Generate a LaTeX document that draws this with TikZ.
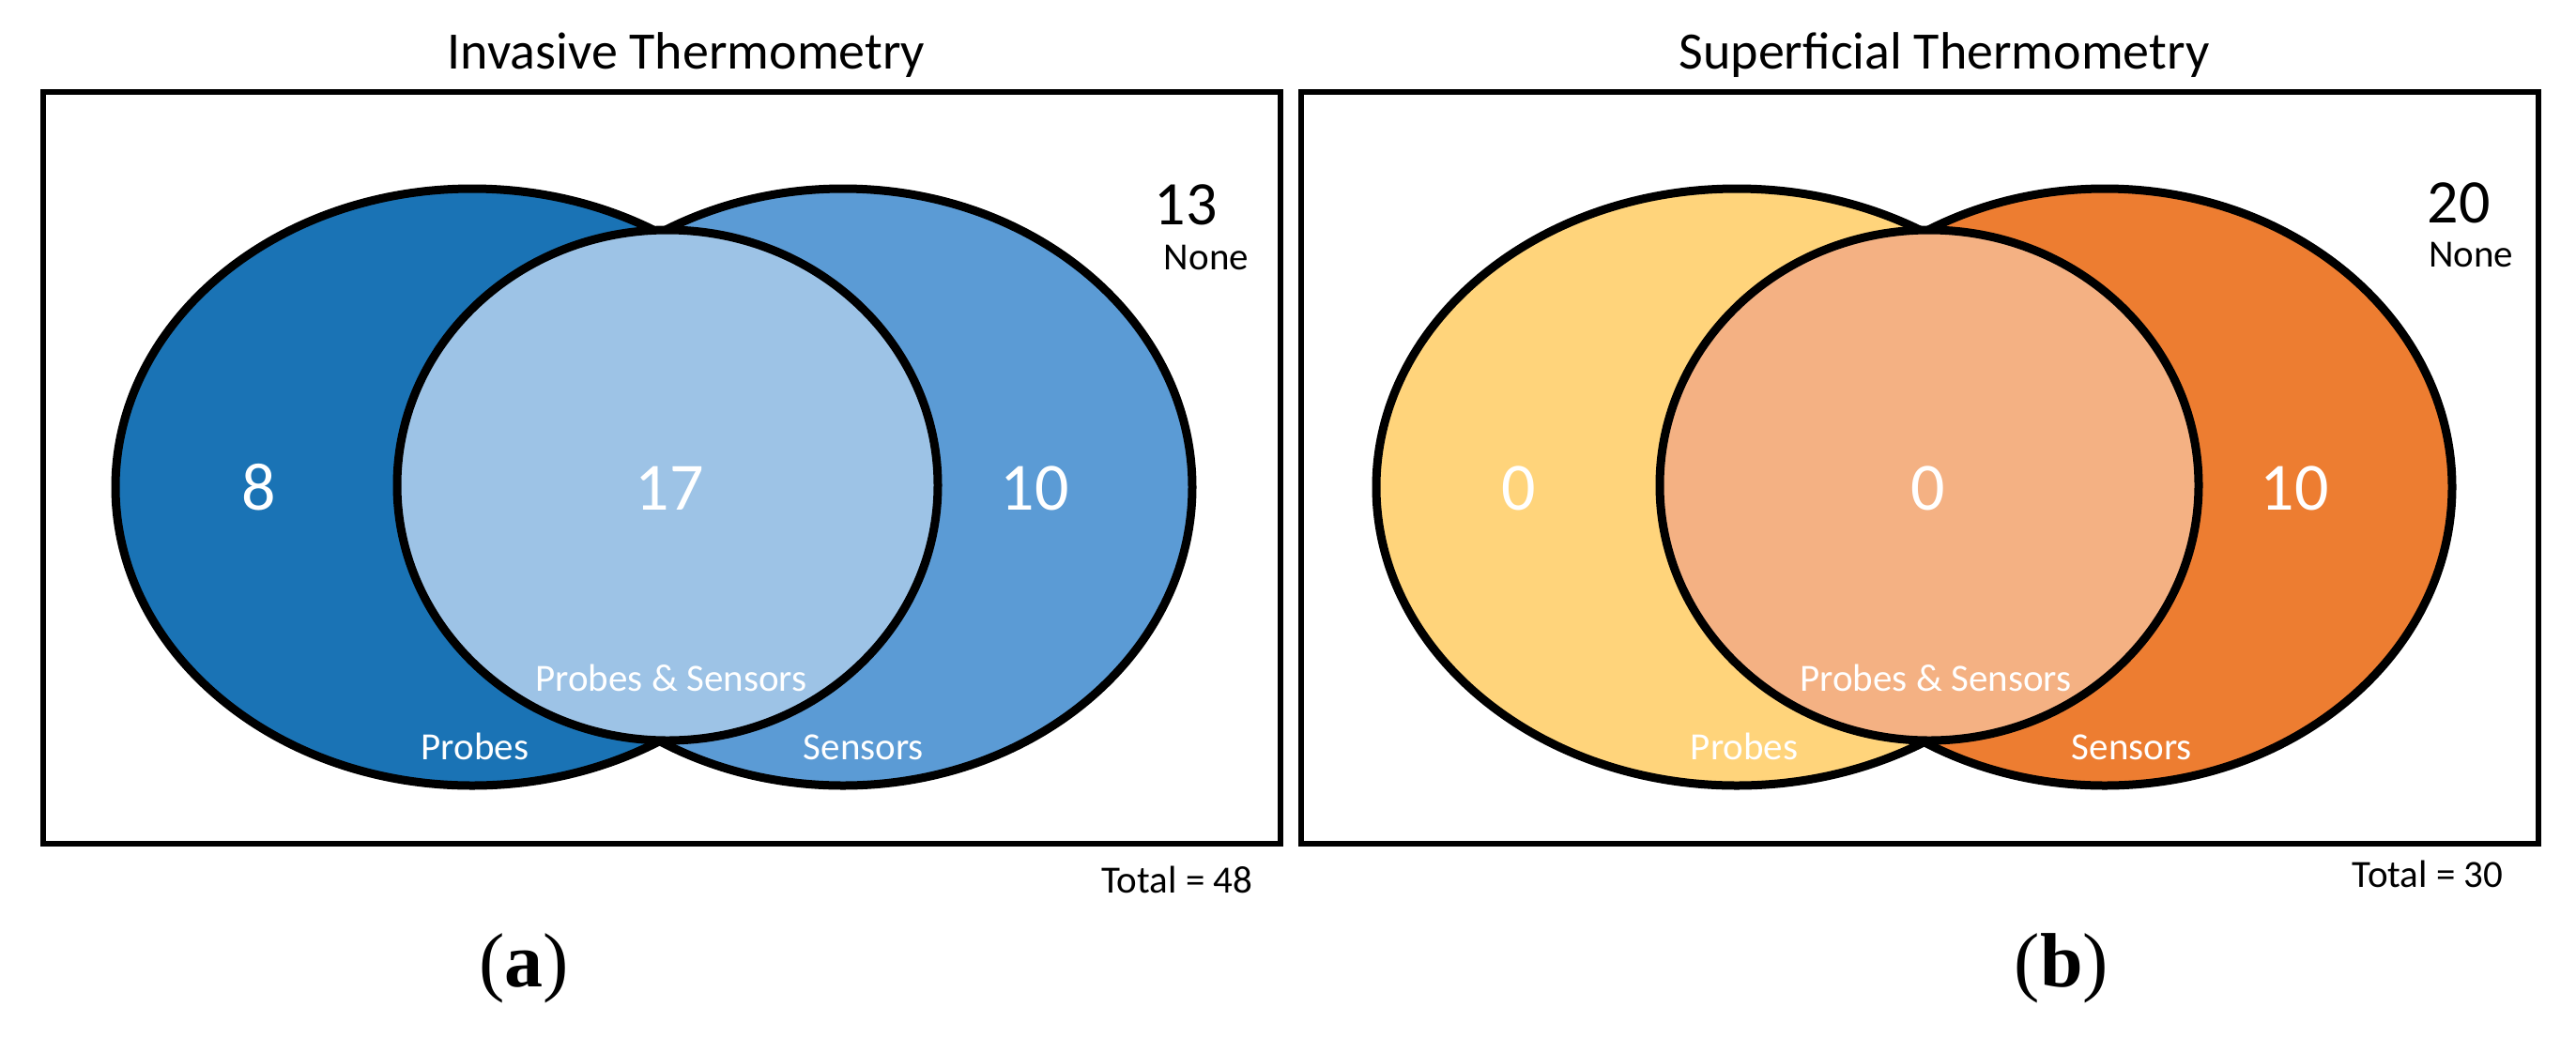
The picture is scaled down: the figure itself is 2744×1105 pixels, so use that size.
\documentclass[tikz,border=0pt]{standalone}
\usepackage{fontspec}
\setmainfont{Carlito}
\newfontfamily\capfont{Liberation Serif}
\definecolor{bdark}{HTML}{1A73B5}
\definecolor{bmid}{HTML}{5B9BD5}
\definecolor{blight}{HTML}{9DC3E6}
\definecolor{oyel}{HTML}{FFD47B}
\definecolor{oora}{HTML}{ED7D31}
\definecolor{olight}{HTML}{F4B183}
\begin{document}
\begin{tikzpicture}[x=0.25pt,y=-0.25pt,
  vennset/.style={draw=black,line width=2.25pt},
  frame/.style={draw=black,line width=1.5pt},
  bignum/.style={anchor=base,inner sep=0pt,text=white,font=\fontsize{18}{18}\selectfont},
  nonenum/.style={anchor=base,inner sep=0pt,text=black,font=\fontsize{16.5}{16.5}\selectfont},
  smalllab/.style={anchor=base,inner sep=0pt,text=white,font=\fontsize{10.25}{12}\selectfont},
  blacklab/.style={anchor=base,inner sep=0pt,text=black,font=\fontsize{10.25}{12}\selectfont},
  titlelab/.style={anchor=base,inner sep=0pt,text=black,font=\fontsize{14}{16}\selectfont},
  panellab/.style={anchor=base,inner sep=0pt,text=black,font=\capfont\fontsize{20.5}{22}\selectfont}]
\fill[white] (0,0) rectangle (2744,1105);
\useasboundingbox (0,0) rectangle (2744,1105);

% ---------- panel (a)
\draw[frame] (46,98) rectangle (1364,899);
\node[titlelab] (ta) at (731,73) {Invasive Thermometry};
\draw[vennset,fill=bdark] (503,519) ellipse [x radius=95pt, y radius=79.5pt];
\draw[vennset,fill=bmid] (898,519) ellipse [x radius=93pt, y radius=79.5pt];
\draw[vennset,fill=blight] (711,517) ellipse [x radius=72pt, y radius=68pt];
\node[bignum] (a1) at (276,543) {8};
\node[bignum] (a2) at (713,543) {17};
\node[bignum] (a3) at (1102,543) {10};
\node[nonenum] (a4) at (1263,239) {13};
\node[blacklab] (a5) at (1285,287) {None};
\node[smalllab] (a6) at (715,736) {Probes \& Sensors};
\node[smalllab] (a7) at (506,809) {Probes};
\node[smalllab] (a8) at (920,809) {Sensors};
\node[blacklab] (a9) at (1254,951) {Total = 48};
\node[panellab] (pa) at (558,1051) {(\textbf{a})};

% ---------- panel (b)
\draw[frame] (1386,98) rectangle (2704,899);
\node[titlelab] (tb) at (2071,73) {Superficial Thermometry};
\draw[vennset,fill=oyel] (1850,519) ellipse [x radius=96pt, y radius=79.5pt];
\draw[vennset,fill=oora] (2242,519) ellipse [x radius=92.5pt, y radius=79.5pt];
\draw[vennset,fill=olight] (2055,517) ellipse [x radius=71.75pt, y radius=68pt];
\node[bignum] (b1) at (1618,543) {0};
\node[bignum] (b2) at (2054,543) {0};
\node[bignum] (b3) at (2444,543) {10};
\node[nonenum] (b4) at (2619,237) {20};
\node[blacklab] (b5) at (2632,284) {None};
\node[smalllab] (b6) at (2062,736) {Probes \& Sensors};
\node[smalllab] (b7) at (1858,809) {Probes};
\node[smalllab] (b8) at (2271,809) {Sensors};
\node[blacklab] (b9) at (2586,945) {Total = 30};
\node[panellab] (pb) at (2196,1051) {(\textbf{b})};
\end{tikzpicture}
\end{document}
